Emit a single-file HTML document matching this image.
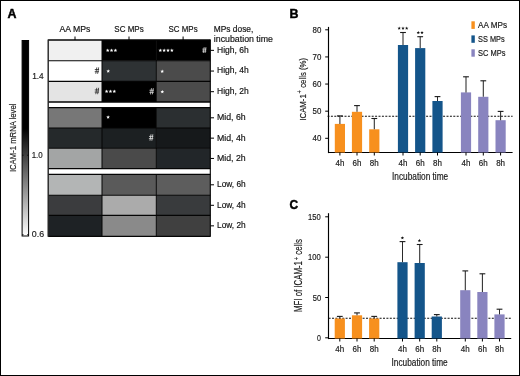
<!DOCTYPE html>
<html><head><meta charset="utf-8"><style>
html,body{margin:0;padding:0;background:#fff;}
svg{display:block;will-change:transform;}
text{font-family:"Liberation Sans",sans-serif;}
</style></head><body>
<svg width="520" height="376" viewBox="0 0 520 376">
<rect width="520" height="376" fill="#fff"/>
<rect x="48.2" y="40.00" width="53.80" height="20.70" fill="#f0f0f0"/>
<rect x="102" y="40.00" width="54.30" height="20.70" fill="#000000"/>
<rect x="156.3" y="40.00" width="54.00" height="20.70" fill="#000000"/>
<rect x="48.2" y="60.70" width="53.80" height="20.70" fill="#ffffff"/>
<rect x="102" y="60.70" width="54.30" height="20.70" fill="#2e3234"/>
<rect x="156.3" y="60.70" width="54.00" height="20.70" fill="#4b4b4b"/>
<rect x="48.2" y="81.40" width="53.80" height="20.60" fill="#e4e4e4"/>
<rect x="102" y="81.40" width="54.30" height="20.60" fill="#000000"/>
<rect x="156.3" y="81.40" width="54.00" height="20.60" fill="#4b4b4b"/>
<rect x="48.2" y="107.60" width="53.80" height="20.40" fill="#777777"/>
<rect x="102" y="107.60" width="54.30" height="20.40" fill="#000000"/>
<rect x="156.3" y="107.60" width="54.00" height="20.40" fill="#2b2f31"/>
<rect x="48.2" y="128.00" width="53.80" height="20.30" fill="#25292b"/>
<rect x="102" y="128.00" width="54.30" height="20.30" fill="#1c2022"/>
<rect x="156.3" y="128.00" width="54.00" height="20.30" fill="#16191b"/>
<rect x="48.2" y="148.30" width="53.80" height="20.30" fill="#a3a5a5"/>
<rect x="102" y="148.30" width="54.30" height="20.30" fill="#4a4a4a"/>
<rect x="156.3" y="148.30" width="54.00" height="20.30" fill="#222629"/>
<rect x="48.2" y="174.40" width="53.80" height="20.80" fill="#b3b5b5"/>
<rect x="102" y="174.40" width="54.30" height="20.80" fill="#5a5a5a"/>
<rect x="156.3" y="174.40" width="54.00" height="20.80" fill="#5d5d5d"/>
<rect x="48.2" y="195.20" width="53.80" height="20.20" fill="#3b3c3e"/>
<rect x="102" y="195.20" width="54.30" height="20.20" fill="#ababab"/>
<rect x="156.3" y="195.20" width="54.00" height="20.20" fill="#393b3d"/>
<rect x="48.2" y="215.40" width="53.80" height="20.90" fill="#1e2225"/>
<rect x="102" y="215.40" width="54.30" height="20.90" fill="#8a8a8a"/>
<rect x="156.3" y="215.40" width="54.00" height="20.90" fill="#404040"/>
<line x1="48.2" y1="40" x2="210.3" y2="40" stroke="#050505" stroke-width="1.3"/>
<line x1="48.2" y1="60.7" x2="210.3" y2="60.7" stroke="#050505" stroke-width="1.1"/>
<line x1="48.2" y1="81.4" x2="210.3" y2="81.4" stroke="#050505" stroke-width="1.1"/>
<line x1="48.2" y1="102" x2="210.3" y2="102" stroke="#050505" stroke-width="1.3"/>
<line x1="102" y1="40" x2="102" y2="102" stroke="#050505" stroke-width="1"/>
<line x1="156.3" y1="40" x2="156.3" y2="102" stroke="#050505" stroke-width="1"/>
<line x1="48.2" y1="107.6" x2="210.3" y2="107.6" stroke="#050505" stroke-width="1.3"/>
<line x1="48.2" y1="128" x2="210.3" y2="128" stroke="#050505" stroke-width="1.1"/>
<line x1="48.2" y1="148.3" x2="210.3" y2="148.3" stroke="#050505" stroke-width="1.1"/>
<line x1="48.2" y1="168.6" x2="210.3" y2="168.6" stroke="#050505" stroke-width="1.3"/>
<line x1="102" y1="107.6" x2="102" y2="168.6" stroke="#050505" stroke-width="1"/>
<line x1="156.3" y1="107.6" x2="156.3" y2="168.6" stroke="#050505" stroke-width="1"/>
<line x1="48.2" y1="174.4" x2="210.3" y2="174.4" stroke="#050505" stroke-width="1.3"/>
<line x1="48.2" y1="195.2" x2="210.3" y2="195.2" stroke="#050505" stroke-width="1.1"/>
<line x1="48.2" y1="215.4" x2="210.3" y2="215.4" stroke="#050505" stroke-width="1.1"/>
<line x1="48.2" y1="236.3" x2="210.3" y2="236.3" stroke="#050505" stroke-width="1.3"/>
<line x1="102" y1="174.4" x2="102" y2="236.3" stroke="#050505" stroke-width="1"/>
<line x1="156.3" y1="174.4" x2="156.3" y2="236.3" stroke="#050505" stroke-width="1"/>
<line x1="48.2" y1="39.5" x2="48.2" y2="236.8" stroke="#222" stroke-width="1.4"/>
<line x1="210.3" y1="39.5" x2="210.3" y2="236.8" stroke="#000" stroke-width="1.1"/>
<line x1="75" y1="36.5" x2="75" y2="40" stroke="#000" stroke-width="1"/>
<text x="75" y="31.6" font-size="8.7" text-anchor="middle" fill="#111" stroke="#1a1a1a" stroke-width="0.18" textLength="30.9" lengthAdjust="spacingAndGlyphs">AA MPs</text>
<line x1="129" y1="36.5" x2="129" y2="40" stroke="#000" stroke-width="1"/>
<text x="129" y="31.6" font-size="8.7" text-anchor="middle" fill="#111" stroke="#1a1a1a" stroke-width="0.18" textLength="29.3" lengthAdjust="spacingAndGlyphs">SC MPs</text>
<line x1="183.1" y1="36.5" x2="183.1" y2="40" stroke="#000" stroke-width="1"/>
<text x="183.1" y="31.6" font-size="8.7" text-anchor="middle" fill="#111" stroke="#1a1a1a" stroke-width="0.18" textLength="29.0" lengthAdjust="spacingAndGlyphs">SC MPs</text>
<text x="213.8" y="31.8"  font-size="8.6" stroke="#1a1a1a" stroke-width="0.18" fill="#111" textLength="39.5" lengthAdjust="spacingAndGlyphs">MPs dose,</text>
<text x="213.8" y="41.6"  font-size="8.6" stroke="#1a1a1a" stroke-width="0.18" fill="#111" textLength="59.2" lengthAdjust="spacingAndGlyphs">incubation time</text>
<line x1="210.5" y1="50.35" x2="214" y2="50.35" stroke="#000" stroke-width="1"/>
<text x="217" y="52.70" font-size="8.7" fill="#111" stroke="#1a1a1a" stroke-width="0.18" textLength="31.7" lengthAdjust="spacingAndGlyphs">High, 6h</text>
<line x1="210.5" y1="71.05" x2="214" y2="71.05" stroke="#000" stroke-width="1"/>
<text x="217" y="73.40" font-size="8.7" fill="#111" stroke="#1a1a1a" stroke-width="0.18" textLength="31.7" lengthAdjust="spacingAndGlyphs">High, 4h</text>
<line x1="210.5" y1="91.70" x2="214" y2="91.70" stroke="#000" stroke-width="1"/>
<text x="217" y="94.05" font-size="8.7" fill="#111" stroke="#1a1a1a" stroke-width="0.18" textLength="31.7" lengthAdjust="spacingAndGlyphs">High, 2h</text>
<line x1="210.5" y1="117.80" x2="214" y2="117.80" stroke="#000" stroke-width="1"/>
<text x="217" y="120.15" font-size="8.7" fill="#111" stroke="#1a1a1a" stroke-width="0.18" textLength="28.7" lengthAdjust="spacingAndGlyphs">Mid, 6h</text>
<line x1="210.5" y1="138.15" x2="214" y2="138.15" stroke="#000" stroke-width="1"/>
<text x="217" y="140.50" font-size="8.7" fill="#111" stroke="#1a1a1a" stroke-width="0.18" textLength="28.7" lengthAdjust="spacingAndGlyphs">Mid, 4h</text>
<line x1="210.5" y1="158.45" x2="214" y2="158.45" stroke="#000" stroke-width="1"/>
<text x="217" y="160.80" font-size="8.7" fill="#111" stroke="#1a1a1a" stroke-width="0.18" textLength="28.7" lengthAdjust="spacingAndGlyphs">Mid, 2h</text>
<line x1="210.5" y1="184.80" x2="214" y2="184.80" stroke="#000" stroke-width="1"/>
<text x="217" y="187.15" font-size="8.7" fill="#111" stroke="#1a1a1a" stroke-width="0.18" textLength="28.7" lengthAdjust="spacingAndGlyphs">Low, 6h</text>
<line x1="210.5" y1="205.30" x2="214" y2="205.30" stroke="#000" stroke-width="1"/>
<text x="217" y="207.65" font-size="8.7" fill="#111" stroke="#1a1a1a" stroke-width="0.18" textLength="28.7" lengthAdjust="spacingAndGlyphs">Low, 4h</text>
<line x1="210.5" y1="225.85" x2="214" y2="225.85" stroke="#000" stroke-width="1"/>
<text x="217" y="228.20" font-size="8.7" fill="#111" stroke="#1a1a1a" stroke-width="0.18" textLength="28.7" lengthAdjust="spacingAndGlyphs">Low, 2h</text>
<polygon points="107.70,48.50 108.20,49.71 109.51,49.81 108.51,50.66 108.82,51.94 107.70,51.25 106.58,51.94 106.89,50.66 105.89,49.81 107.20,49.71" fill="#fff"/>
<polygon points="111.55,48.50 112.05,49.71 113.36,49.81 112.36,50.66 112.67,51.94 111.55,51.25 110.43,51.94 110.74,50.66 109.74,49.81 111.05,49.71" fill="#fff"/>
<polygon points="115.40,48.50 115.90,49.71 117.21,49.81 116.21,50.66 116.52,51.94 115.40,51.25 114.28,51.94 114.59,50.66 113.59,49.81 114.90,49.71" fill="#fff"/>
<polygon points="160.30,48.50 160.80,49.71 162.11,49.81 161.11,50.66 161.42,51.94 160.30,51.25 159.18,51.94 159.49,50.66 158.49,49.81 159.80,49.71" fill="#fff"/>
<polygon points="164.15,48.50 164.65,49.71 165.96,49.81 164.96,50.66 165.27,51.94 164.15,51.25 163.03,51.94 163.34,50.66 162.34,49.81 163.65,49.71" fill="#fff"/>
<polygon points="168.00,48.50 168.50,49.71 169.81,49.81 168.81,50.66 169.12,51.94 168.00,51.25 166.88,51.94 167.19,50.66 166.19,49.81 167.50,49.71" fill="#fff"/>
<polygon points="171.85,48.50 172.35,49.71 173.66,49.81 172.66,50.66 172.97,51.94 171.85,51.25 170.73,51.94 171.04,50.66 170.04,49.81 171.35,49.71" fill="#fff"/>
<polygon points="108.20,69.30 108.70,70.51 110.01,70.61 109.01,71.46 109.32,72.74 108.20,72.05 107.08,72.74 107.39,71.46 106.39,70.61 107.70,70.51" fill="#fff"/>
<polygon points="162.20,69.50 162.70,70.71 164.01,70.81 163.01,71.66 163.32,72.94 162.20,72.25 161.08,72.94 161.39,71.66 160.39,70.81 161.70,70.71" fill="#fff"/>
<polygon points="106.60,89.50 107.10,90.71 108.41,90.81 107.41,91.66 107.72,92.94 106.60,92.25 105.48,92.94 105.79,91.66 104.79,90.81 106.10,90.71" fill="#fff"/>
<polygon points="110.45,89.50 110.95,90.71 112.26,90.81 111.26,91.66 111.57,92.94 110.45,92.25 109.33,92.94 109.64,91.66 108.64,90.81 109.95,90.71" fill="#fff"/>
<polygon points="114.30,89.50 114.80,90.71 116.11,90.81 115.11,91.66 115.42,92.94 114.30,92.25 113.18,92.94 113.49,91.66 112.49,90.81 113.80,90.71" fill="#fff"/>
<polygon points="162.30,89.90 162.80,91.11 164.11,91.21 163.11,92.06 163.42,93.34 162.30,92.65 161.18,93.34 161.49,92.06 160.49,91.21 161.80,91.11" fill="#fff"/>
<polygon points="108.10,115.30 108.60,116.51 109.91,116.61 108.91,117.46 109.22,118.74 108.10,118.05 106.98,118.74 107.29,117.46 106.29,116.61 107.60,116.51" fill="#fff"/>
<path d="M96.80,67.40 L95.77,73.80 M98.64,67.40 L97.62,73.80 M94.80,69.51 L99.10,69.51 M94.70,71.69 L99.00,71.69" stroke="#2a2a2a" stroke-width="0.8" fill="none"/>
<path d="M96.80,87.80 L95.77,94.20 M98.64,87.80 L97.62,94.20 M94.80,89.91 L99.10,89.91 M94.70,92.09 L99.00,92.09" stroke="#2a2a2a" stroke-width="0.8" fill="none"/>
<path d="M151.48,88.20 L150.49,94.40 M153.33,88.20 L152.34,94.40 M149.50,90.25 L153.80,90.25 M149.40,92.35 L153.70,92.35" stroke="#ddd" stroke-width="0.8" fill="none"/>
<path d="M204.18,47.20 L203.25,53.00 M205.94,47.20 L205.01,53.00 M202.30,49.11 L206.40,49.11 M202.20,51.09 L206.30,51.09" stroke="#ddd" stroke-width="0.8" fill="none"/>
<path d="M151.00,134.30 L149.97,140.70 M152.84,134.30 L151.82,140.70 M149.00,136.41 L153.30,136.41 M148.90,138.59 L153.20,138.59" stroke="#ddd" stroke-width="0.8" fill="none"/>
<defs><linearGradient id="cb" x1="0" y1="0" x2="0" y2="1"><stop offset="0" stop-color="#000"/><stop offset="0.45" stop-color="#000"/><stop offset="1" stop-color="#fff"/></linearGradient></defs>
<rect x="22.1" y="40.5" width="6.5" height="195.5" fill="url(#cb)" stroke="#000" stroke-width="1"/>
<line x1="22.1" y1="155.2" x2="23.6" y2="155.2" stroke="#000" stroke-width="0.8"/>
<line x1="27.1" y1="155.2" x2="28.6" y2="155.2" stroke="#000" stroke-width="0.8"/>
<line x1="22.1" y1="234.7" x2="23.6" y2="234.7" stroke="#000" stroke-width="0.8"/>
<line x1="27.1" y1="234.7" x2="28.6" y2="234.7" stroke="#000" stroke-width="0.8"/>
<text x="32.2" y="79"  font-size="9" stroke="#1a1a1a" stroke-width="0.18" fill="#222" textLength="11.5" lengthAdjust="spacingAndGlyphs">1.4</text>
<text x="31.7" y="158"  font-size="9" stroke="#1a1a1a" stroke-width="0.18" fill="#222" textLength="11" lengthAdjust="spacingAndGlyphs">1.0</text>
<text x="31.8" y="237.1"  font-size="9" stroke="#1a1a1a" stroke-width="0.18" fill="#222" textLength="12.3" lengthAdjust="spacingAndGlyphs">0.6</text>
<text transform="translate(15.6,172.1) rotate(-90)" x="0" y="0"  font-size="9.8" stroke="#1a1a1a" stroke-width="0.18" fill="#222" textLength="68.5" lengthAdjust="spacingAndGlyphs">ICAM-1 mRNA level</text>
<text x="7.4" y="17.7" font-size="12.4" font-weight="bold" fill="#000" stroke="#000" stroke-width="0.45">A</text>
<text x="289.4" y="17.7" font-size="12.4" font-weight="bold" fill="#000" stroke="#000" stroke-width="0.45">B</text>
<text x="289.6" y="209.1" font-size="11.9" font-weight="bold" fill="#000" stroke="#000" stroke-width="0.45">C</text>
<line x1="328.5" y1="26.9" x2="328.5" y2="153.1" stroke="#000" stroke-width="1.15"/>
<line x1="328" y1="152.5" x2="512.6" y2="152.5" stroke="#000" stroke-width="1.15"/>
<line x1="325.2" y1="138.30" x2="328.5" y2="138.30" stroke="#000" stroke-width="1"/>
<text x="312.5" y="141.35" font-size="8.8" fill="#1a1a1a" stroke="#1a1a1a" stroke-width="0.18" textLength="8.8" lengthAdjust="spacingAndGlyphs">40</text>
<line x1="325.2" y1="111.18" x2="328.5" y2="111.18" stroke="#000" stroke-width="1"/>
<text x="312.5" y="114.23" font-size="8.8" fill="#1a1a1a" stroke="#1a1a1a" stroke-width="0.18" textLength="8.8" lengthAdjust="spacingAndGlyphs">50</text>
<line x1="325.2" y1="84.05" x2="328.5" y2="84.05" stroke="#000" stroke-width="1"/>
<text x="312.5" y="87.10" font-size="8.8" fill="#1a1a1a" stroke="#1a1a1a" stroke-width="0.18" textLength="8.8" lengthAdjust="spacingAndGlyphs">60</text>
<line x1="325.2" y1="56.93" x2="328.5" y2="56.93" stroke="#000" stroke-width="1"/>
<text x="312.5" y="59.98" font-size="8.8" fill="#1a1a1a" stroke="#1a1a1a" stroke-width="0.18" textLength="8.8" lengthAdjust="spacingAndGlyphs">70</text>
<line x1="325.2" y1="29.80" x2="328.5" y2="29.80" stroke="#000" stroke-width="1"/>
<text x="312.5" y="32.85" font-size="8.8" fill="#1a1a1a" stroke="#1a1a1a" stroke-width="0.18" textLength="8.8" lengthAdjust="spacingAndGlyphs">80</text>
<line x1="327.5" y1="116.2" x2="512.6" y2="116.2" stroke="#0d0d0d" stroke-width="1.15" stroke-dasharray="2.0,1.4"/>
<rect x="334.80" y="123.9" width="10.2" height="28.60" fill="#f7901e"/>
<rect x="351.90" y="111.8" width="10.2" height="40.70" fill="#f7901e"/>
<rect x="369.20" y="129.3" width="10.2" height="23.20" fill="#f7901e"/>
<rect x="397.90" y="45.0" width="10.2" height="107.50" fill="#14558a"/>
<rect x="415.10" y="48.1" width="10.2" height="104.40" fill="#14558a"/>
<rect x="432.40" y="101.0" width="10.2" height="51.50" fill="#14558a"/>
<rect x="460.90" y="92.4" width="10.2" height="60.10" fill="#8984bf"/>
<rect x="478.20" y="96.8" width="10.2" height="55.70" fill="#8984bf"/>
<rect x="495.50" y="120.2" width="10.2" height="32.30" fill="#8984bf"/>
<line x1="339.90" y1="115.9" x2="339.90" y2="123.9" stroke="#2a2a2a" stroke-width="1.05"/>
<line x1="337.00" y1="115.9" x2="342.80" y2="115.9" stroke="#1a1a1a" stroke-width="1.1"/>
<line x1="339.90" y1="152.5" x2="339.90" y2="155.5" stroke="#000" stroke-width="1"/>
<text x="339.90" y="165.9" font-size="8.9" fill="#1a1a1a" stroke="#1a1a1a" stroke-width="0.18" text-anchor="middle" textLength="8.9" lengthAdjust="spacingAndGlyphs">4h</text>
<line x1="357.00" y1="105.6" x2="357.00" y2="111.8" stroke="#2a2a2a" stroke-width="1.05"/>
<line x1="354.10" y1="105.6" x2="359.90" y2="105.6" stroke="#1a1a1a" stroke-width="1.1"/>
<line x1="357.00" y1="152.5" x2="357.00" y2="155.5" stroke="#000" stroke-width="1"/>
<text x="357.00" y="165.9" font-size="8.9" fill="#1a1a1a" stroke="#1a1a1a" stroke-width="0.18" text-anchor="middle" textLength="8.9" lengthAdjust="spacingAndGlyphs">6h</text>
<line x1="374.30" y1="118.5" x2="374.30" y2="129.3" stroke="#2a2a2a" stroke-width="1.05"/>
<line x1="371.40" y1="118.5" x2="377.20" y2="118.5" stroke="#1a1a1a" stroke-width="1.1"/>
<line x1="374.30" y1="152.5" x2="374.30" y2="155.5" stroke="#000" stroke-width="1"/>
<text x="374.30" y="165.9" font-size="8.9" fill="#1a1a1a" stroke="#1a1a1a" stroke-width="0.18" text-anchor="middle" textLength="8.9" lengthAdjust="spacingAndGlyphs">8h</text>
<line x1="403.00" y1="32.5" x2="403.00" y2="45.0" stroke="#2a2a2a" stroke-width="1.05"/>
<line x1="400.10" y1="32.5" x2="405.90" y2="32.5" stroke="#1a1a1a" stroke-width="1.1"/>
<line x1="403.00" y1="152.5" x2="403.00" y2="155.5" stroke="#000" stroke-width="1"/>
<text x="403.00" y="165.9" font-size="8.9" fill="#1a1a1a" stroke="#1a1a1a" stroke-width="0.18" text-anchor="middle" textLength="8.9" lengthAdjust="spacingAndGlyphs">4h</text>
<line x1="420.20" y1="36.7" x2="420.20" y2="48.1" stroke="#2a2a2a" stroke-width="1.05"/>
<line x1="417.30" y1="36.7" x2="423.10" y2="36.7" stroke="#1a1a1a" stroke-width="1.1"/>
<line x1="420.20" y1="152.5" x2="420.20" y2="155.5" stroke="#000" stroke-width="1"/>
<text x="420.20" y="165.9" font-size="8.9" fill="#1a1a1a" stroke="#1a1a1a" stroke-width="0.18" text-anchor="middle" textLength="8.9" lengthAdjust="spacingAndGlyphs">6h</text>
<line x1="437.50" y1="96.6" x2="437.50" y2="101.0" stroke="#2a2a2a" stroke-width="1.05"/>
<line x1="434.60" y1="96.6" x2="440.40" y2="96.6" stroke="#1a1a1a" stroke-width="1.1"/>
<line x1="437.50" y1="152.5" x2="437.50" y2="155.5" stroke="#000" stroke-width="1"/>
<text x="437.50" y="165.9" font-size="8.9" fill="#1a1a1a" stroke="#1a1a1a" stroke-width="0.18" text-anchor="middle" textLength="8.9" lengthAdjust="spacingAndGlyphs">8h</text>
<line x1="466.00" y1="76.8" x2="466.00" y2="92.4" stroke="#2a2a2a" stroke-width="1.05"/>
<line x1="463.10" y1="76.8" x2="468.90" y2="76.8" stroke="#1a1a1a" stroke-width="1.1"/>
<line x1="466.00" y1="152.5" x2="466.00" y2="155.5" stroke="#000" stroke-width="1"/>
<text x="466.00" y="165.9" font-size="8.9" fill="#1a1a1a" stroke="#1a1a1a" stroke-width="0.18" text-anchor="middle" textLength="8.9" lengthAdjust="spacingAndGlyphs">4h</text>
<line x1="483.30" y1="80.8" x2="483.30" y2="96.8" stroke="#2a2a2a" stroke-width="1.05"/>
<line x1="480.40" y1="80.8" x2="486.20" y2="80.8" stroke="#1a1a1a" stroke-width="1.1"/>
<line x1="483.30" y1="152.5" x2="483.30" y2="155.5" stroke="#000" stroke-width="1"/>
<text x="483.30" y="165.9" font-size="8.9" fill="#1a1a1a" stroke="#1a1a1a" stroke-width="0.18" text-anchor="middle" textLength="8.9" lengthAdjust="spacingAndGlyphs">6h</text>
<line x1="500.60" y1="111.4" x2="500.60" y2="120.2" stroke="#2a2a2a" stroke-width="1.05"/>
<line x1="497.70" y1="111.4" x2="503.50" y2="111.4" stroke="#1a1a1a" stroke-width="1.1"/>
<line x1="500.60" y1="152.5" x2="500.60" y2="155.5" stroke="#000" stroke-width="1"/>
<text x="500.60" y="165.9" font-size="8.9" fill="#1a1a1a" stroke="#1a1a1a" stroke-width="0.18" text-anchor="middle" textLength="8.9" lengthAdjust="spacingAndGlyphs">8h</text>
<text x="392" y="180.4" font-size="10" fill="#1a1a1a" stroke="#1a1a1a" stroke-width="0.18" textLength="56.2" lengthAdjust="spacingAndGlyphs">Incubation time</text>
<text transform="translate(305.9,120.6) rotate(-90)" font-size="9.6" fill="#1a1a1a" stroke="#1a1a1a" stroke-width="0.18" textLength="62.6" lengthAdjust="spacingAndGlyphs">ICAM-1<tspan font-size="7" dx="0.9" dy="-3.6">+</tspan><tspan dx="0.4" dy="3.6"> cells (%)</tspan></text>
<polygon points="399.20,26.55 399.67,27.65 400.86,27.76 399.96,28.55 400.23,29.72 399.20,29.10 398.17,29.72 398.44,28.55 397.54,27.76 398.73,27.65" fill="#111"/>
<polygon points="403.00,26.55 403.47,27.65 404.66,27.76 403.76,28.55 404.03,29.72 403.00,29.10 401.97,29.72 402.24,28.55 401.34,27.76 402.53,27.65" fill="#111"/>
<polygon points="406.70,26.55 407.17,27.65 408.36,27.76 407.46,28.55 407.73,29.72 406.70,29.10 405.67,29.72 405.94,28.55 405.04,27.76 406.23,27.65" fill="#111"/>
<polygon points="418.30,30.95 418.77,32.05 419.96,32.16 419.06,32.95 419.33,34.12 418.30,33.50 417.27,34.12 417.54,32.95 416.64,32.16 417.83,32.05" fill="#111"/>
<polygon points="422.00,30.95 422.47,32.05 423.66,32.16 422.76,32.95 423.03,34.12 422.00,33.50 420.97,34.12 421.24,32.95 420.34,32.16 421.53,32.05" fill="#111"/>
<rect x="471.4" y="21.3" width="3.4" height="7.60" fill="#f7901e"/>
<text x="478.1" y="28.0" font-size="8.6" fill="#1a1a1a" stroke="#1a1a1a" stroke-width="0.18" textLength="29" lengthAdjust="spacingAndGlyphs">AA MPs</text>
<rect x="471.4" y="35.4" width="3.4" height="7.40" fill="#14558a"/>
<text x="478.1" y="41.8" font-size="8.6" fill="#1a1a1a" stroke="#1a1a1a" stroke-width="0.18" textLength="26.6" lengthAdjust="spacingAndGlyphs">SS MPs</text>
<rect x="471.4" y="49.3" width="3.4" height="7.40" fill="#8984bf"/>
<text x="478.1" y="55.5" font-size="8.6" fill="#1a1a1a" stroke="#1a1a1a" stroke-width="0.18" textLength="27.4" lengthAdjust="spacingAndGlyphs">SC MPs</text>
<line x1="328.5" y1="213.2" x2="328.5" y2="339.1" stroke="#000" stroke-width="1.15"/>
<line x1="328" y1="338.5" x2="511.2" y2="338.5" stroke="#000" stroke-width="1.15"/>
<line x1="325.2" y1="337.80" x2="328.5" y2="337.80" stroke="#000" stroke-width="1"/>
<text x="317.1" y="340.85" font-size="8.8" fill="#1a1a1a" stroke="#1a1a1a" stroke-width="0.18" textLength="3.9" lengthAdjust="spacingAndGlyphs">0</text>
<line x1="325.2" y1="297.50" x2="328.5" y2="297.50" stroke="#000" stroke-width="1"/>
<text x="312.8" y="300.55" font-size="8.8" fill="#1a1a1a" stroke="#1a1a1a" stroke-width="0.18" textLength="8.4" lengthAdjust="spacingAndGlyphs">50</text>
<line x1="325.2" y1="257.20" x2="328.5" y2="257.20" stroke="#000" stroke-width="1"/>
<text x="308.0" y="260.25" font-size="8.8" fill="#1a1a1a" stroke="#1a1a1a" stroke-width="0.18" textLength="12.7" lengthAdjust="spacingAndGlyphs">100</text>
<line x1="325.2" y1="216.80" x2="328.5" y2="216.80" stroke="#000" stroke-width="1"/>
<text x="308.0" y="219.85" font-size="8.8" fill="#1a1a1a" stroke="#1a1a1a" stroke-width="0.18" textLength="12.7" lengthAdjust="spacingAndGlyphs">150</text>
<line x1="328.6" y1="318.2" x2="511.2" y2="318.2" stroke="#0d0d0d" stroke-width="1.15" stroke-dasharray="2.0,1.4"/>
<rect x="334.70" y="318.5" width="10.2" height="20.00" fill="#f7901e"/>
<rect x="351.90" y="315.3" width="10.2" height="23.20" fill="#f7901e"/>
<rect x="369.10" y="318.5" width="10.2" height="20.00" fill="#f7901e"/>
<rect x="397.40" y="262.2" width="10.2" height="76.30" fill="#14558a"/>
<rect x="414.60" y="263.0" width="10.2" height="75.50" fill="#14558a"/>
<rect x="431.70" y="316.5" width="10.2" height="22.00" fill="#14558a"/>
<rect x="460.20" y="290.2" width="10.2" height="48.30" fill="#8984bf"/>
<rect x="477.30" y="292.0" width="10.2" height="46.50" fill="#8984bf"/>
<rect x="494.40" y="314.4" width="10.2" height="24.10" fill="#8984bf"/>
<line x1="339.80" y1="316.4" x2="339.80" y2="318.5" stroke="#2a2a2a" stroke-width="1.05"/>
<line x1="336.90" y1="316.4" x2="342.70" y2="316.4" stroke="#1a1a1a" stroke-width="1.1"/>
<line x1="339.80" y1="338.5" x2="339.80" y2="341.5" stroke="#000" stroke-width="1"/>
<text x="339.80" y="351.7" font-size="8.9" fill="#1a1a1a" stroke="#1a1a1a" stroke-width="0.18" text-anchor="middle" textLength="8.9" lengthAdjust="spacingAndGlyphs">4h</text>
<line x1="357.00" y1="312.9" x2="357.00" y2="315.3" stroke="#2a2a2a" stroke-width="1.05"/>
<line x1="354.10" y1="312.9" x2="359.90" y2="312.9" stroke="#1a1a1a" stroke-width="1.1"/>
<line x1="357.00" y1="338.5" x2="357.00" y2="341.5" stroke="#000" stroke-width="1"/>
<text x="357.00" y="351.7" font-size="8.9" fill="#1a1a1a" stroke="#1a1a1a" stroke-width="0.18" text-anchor="middle" textLength="8.9" lengthAdjust="spacingAndGlyphs">6h</text>
<line x1="374.20" y1="316.4" x2="374.20" y2="318.5" stroke="#2a2a2a" stroke-width="1.05"/>
<line x1="371.30" y1="316.4" x2="377.10" y2="316.4" stroke="#1a1a1a" stroke-width="1.1"/>
<line x1="374.20" y1="338.5" x2="374.20" y2="341.5" stroke="#000" stroke-width="1"/>
<text x="374.20" y="351.7" font-size="8.9" fill="#1a1a1a" stroke="#1a1a1a" stroke-width="0.18" text-anchor="middle" textLength="8.9" lengthAdjust="spacingAndGlyphs">8h</text>
<line x1="402.50" y1="241.6" x2="402.50" y2="262.2" stroke="#2a2a2a" stroke-width="1.05"/>
<line x1="399.60" y1="241.6" x2="405.40" y2="241.6" stroke="#1a1a1a" stroke-width="1.1"/>
<line x1="402.50" y1="338.5" x2="402.50" y2="341.5" stroke="#000" stroke-width="1"/>
<text x="402.50" y="351.7" font-size="8.9" fill="#1a1a1a" stroke="#1a1a1a" stroke-width="0.18" text-anchor="middle" textLength="8.9" lengthAdjust="spacingAndGlyphs">4h</text>
<line x1="419.70" y1="244.5" x2="419.70" y2="263.0" stroke="#2a2a2a" stroke-width="1.05"/>
<line x1="416.80" y1="244.5" x2="422.60" y2="244.5" stroke="#1a1a1a" stroke-width="1.1"/>
<line x1="419.70" y1="338.5" x2="419.70" y2="341.5" stroke="#000" stroke-width="1"/>
<text x="419.70" y="351.7" font-size="8.9" fill="#1a1a1a" stroke="#1a1a1a" stroke-width="0.18" text-anchor="middle" textLength="8.9" lengthAdjust="spacingAndGlyphs">6h</text>
<line x1="436.80" y1="314.6" x2="436.80" y2="316.5" stroke="#2a2a2a" stroke-width="1.05"/>
<line x1="433.90" y1="314.6" x2="439.70" y2="314.6" stroke="#1a1a1a" stroke-width="1.1"/>
<line x1="436.80" y1="338.5" x2="436.80" y2="341.5" stroke="#000" stroke-width="1"/>
<text x="436.80" y="351.7" font-size="8.9" fill="#1a1a1a" stroke="#1a1a1a" stroke-width="0.18" text-anchor="middle" textLength="8.9" lengthAdjust="spacingAndGlyphs">8h</text>
<line x1="465.30" y1="270.9" x2="465.30" y2="290.2" stroke="#2a2a2a" stroke-width="1.05"/>
<line x1="462.40" y1="270.9" x2="468.20" y2="270.9" stroke="#1a1a1a" stroke-width="1.1"/>
<line x1="465.30" y1="338.5" x2="465.30" y2="341.5" stroke="#000" stroke-width="1"/>
<text x="465.30" y="351.7" font-size="8.9" fill="#1a1a1a" stroke="#1a1a1a" stroke-width="0.18" text-anchor="middle" textLength="8.9" lengthAdjust="spacingAndGlyphs">4h</text>
<line x1="482.40" y1="273.8" x2="482.40" y2="292.0" stroke="#2a2a2a" stroke-width="1.05"/>
<line x1="479.50" y1="273.8" x2="485.30" y2="273.8" stroke="#1a1a1a" stroke-width="1.1"/>
<line x1="482.40" y1="338.5" x2="482.40" y2="341.5" stroke="#000" stroke-width="1"/>
<text x="482.40" y="351.7" font-size="8.9" fill="#1a1a1a" stroke="#1a1a1a" stroke-width="0.18" text-anchor="middle" textLength="8.9" lengthAdjust="spacingAndGlyphs">6h</text>
<line x1="499.50" y1="309.2" x2="499.50" y2="314.4" stroke="#2a2a2a" stroke-width="1.05"/>
<line x1="496.60" y1="309.2" x2="502.40" y2="309.2" stroke="#1a1a1a" stroke-width="1.1"/>
<line x1="499.50" y1="338.5" x2="499.50" y2="341.5" stroke="#000" stroke-width="1"/>
<text x="499.50" y="351.7" font-size="8.9" fill="#1a1a1a" stroke="#1a1a1a" stroke-width="0.18" text-anchor="middle" textLength="8.9" lengthAdjust="spacingAndGlyphs">8h</text>
<text x="391.5" y="366.2" font-size="10" fill="#1a1a1a" stroke="#1a1a1a" stroke-width="0.18" textLength="56.2" lengthAdjust="spacingAndGlyphs">Incubation time</text>
<text transform="translate(302.1,311.9) rotate(-90)" font-size="10" fill="#1a1a1a" stroke="#1a1a1a" stroke-width="0.18" textLength="72.9" lengthAdjust="spacingAndGlyphs">MFI of ICAM-1<tspan font-size="7" dx="0.9" dy="-3.6">+</tspan><tspan dx="0.4" dy="3.6"> cells</tspan></text>
<polygon points="402.40,236.15 402.87,237.25 404.06,237.36 403.16,238.15 403.43,239.32 402.40,238.70 401.37,239.32 401.64,238.15 400.74,237.36 401.93,237.25" fill="#111"/>
<polygon points="419.40,238.85 419.87,239.95 421.06,240.06 420.16,240.85 420.43,242.02 419.40,241.40 418.37,242.02 418.64,240.85 417.74,240.06 418.93,239.95" fill="#111"/>
<rect x="0.5" y="0.5" width="519" height="375" fill="none" stroke="#000" stroke-width="1"/>
</svg>
</body></html>
